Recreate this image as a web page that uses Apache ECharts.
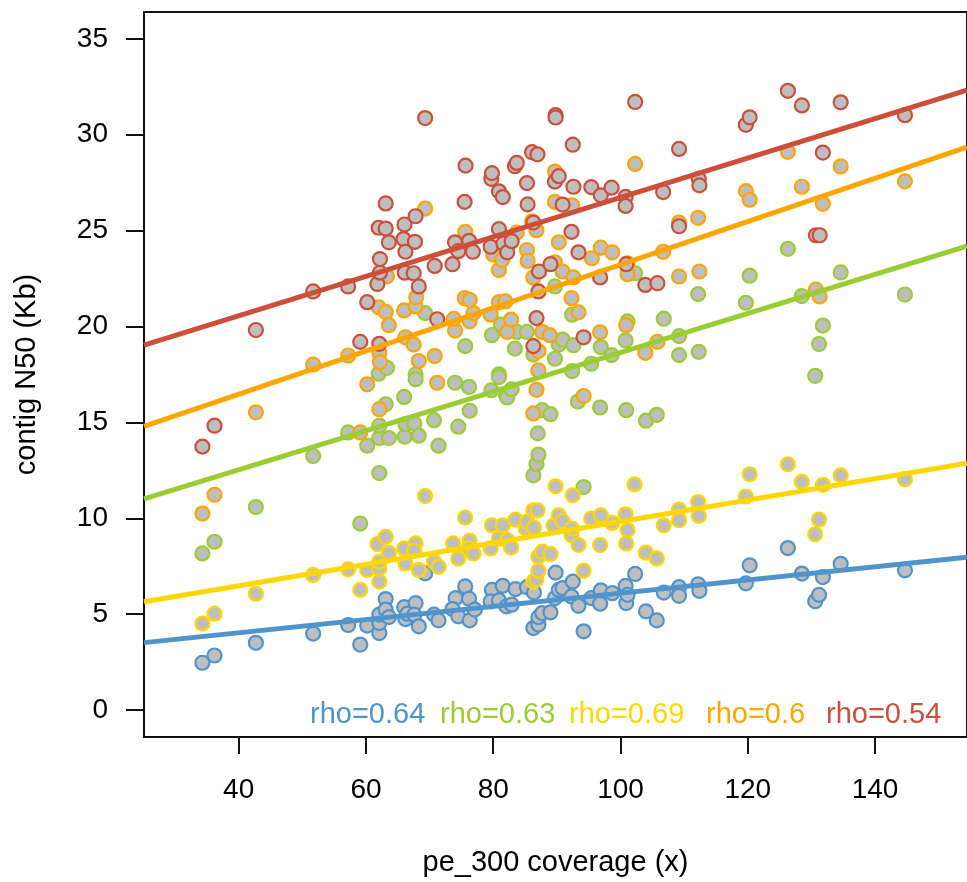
<!DOCTYPE html>
<html>
<head>
<meta charset="utf-8">
<title>contig N50 vs pe_300 coverage</title>
<script src="https://cdn.jsdelivr.net/npm/echarts@6/dist/echarts.min.js"></script>
<style>
  html, body { margin: 0; padding: 0; background: #fff; }
  #chart { width: 967px; height: 882px; }
</style>
</head>
<body>
<div id="chart"></div>
<script>
// Axis tick positions
const xTicks = [40, 60, 80, 100, 120, 140];
const yTicks = [0, 5, 10, 15, 20, 25, 30, 35];

// Series names, colours and Spearman labels
const seriesNames = ['blue', 'green', 'yellow', 'orange', 'red'];
const seriesColors = ['#4F94CD', '#9ACD32', '#FFD700', '#FFA500', '#CD4F39'];
const rhoLabels = ['rho=0.64', 'rho=0.63', 'rho=0.69', 'rho=0.6', 'rho=0.54'];

// Measurements: [coverage, contig N50 (Kb)]
const bluePoints = [[34.3,2.47],[36.2,2.85],[42.7,3.51],[51.7,3.99],[57.2,4.44],[59.1,3.42],[60.2,4.41],[62.1,4.02],[62.1,4.54],[62.1,4.98],[63.1,5.79],[63.1,5.24],[63.6,4.85],[66.0,5.37],[66.2,4.75],[66.5,5.03],[67.8,5.58],[67.6,4.98],[68.3,4.37],[69.3,7.13],[70.7,4.98],[71.4,4.68],[74.1,5.84],[73.6,5.27],[74.5,4.89],[75.6,6.45],[76.2,5.81],[76.3,4.68],[77.1,5.24],[79.8,6.27],[79.6,5.67],[80.9,5.72],[81.5,6.48],[82.1,5.41],[82.9,5.50],[83.5,6.31],[85.3,6.41],[86.4,6.13],[86.3,4.28],[87.1,4.46],[87.1,4.85],[87.7,5.06],[89.0,5.10],[89.7,5.84],[89.8,7.17],[90.3,6.27],[90.9,6.36],[92.3,5.93],[92.5,6.70],[93.4,5.44],[94.2,4.11],[95.4,5.84],[96.8,5.55],[96.9,6.24],[98.7,6.10],[100.8,6.48],[100.9,5.58],[101.1,6.01],[102.3,7.10],[104.0,5.15],[105.7,4.68],[106.8,6.13],[109.2,6.41],[109.2,5.96],[112.2,6.56],[112.4,6.22],[119.7,6.61],[120.3,7.55],[126.3,8.45],[128.5,7.12],[130.6,5.68],[131.2,6.01],[131.8,6.94],[134.6,7.63],[144.7,7.29]];

const greenPoints = [[34.3,8.17],[36.2,8.78],[42.7,10.59],[51.7,13.25],[57.2,14.48],[59.1,9.73],[60.2,13.79],[62.1,12.36],[62.1,14.19],[62.1,14.83],[62.0,17.54],[63.1,15.95],[63.3,17.85],[63.6,14.19],[66.0,16.33],[66.1,14.26],[66.2,14.91],[67.6,14.95],[67.8,17.5],[67.8,17.25],[68.3,14.31],[69.3,20.7],[70.7,15.12],[71.4,13.79],[74.0,17.07],[74.5,14.78],[75.6,18.98],[76.2,16.85],[76.3,15.61],[79.7,16.68],[79.8,19.55],[80.9,17.51],[80.9,17.37],[81.2,20.1],[82.0,16.44],[82.2,16.3],[82.9,16.73],[83.4,18.85],[83.7,19.72],[85.3,19.72],[86.3,18.54],[86.3,12.24],[86.8,12.84],[87.0,14.43],[87.1,13.33],[87.7,15.64],[89.0,15.43],[89.7,18.32],[89.7,22.09],[90.3,19.06],[90.9,19.32],[92.4,17.68],[92.4,20.62],[92.6,19.03],[93.3,16.09],[94.2,11.63],[95.4,18.06],[96.8,15.78],[96.9,18.93],[98.6,18.51],[100.8,19.27],[100.9,15.64],[101.1,20.27],[102.3,22.78],[104.0,15.09],[105.7,15.4],[106.8,20.41],[109.2,19.5],[109.2,18.51],[112.2,21.69],[112.3,18.68],[119.7,21.24],[120.3,22.65],[126.3,24.05],[128.5,21.59],[130.6,17.43],[131.2,19.09],[131.8,20.05],[134.6,22.82],[144.7,21.67]];

const yellowPoints = [[34.3,4.51],[36.2,5.03],[42.7,6.07],[51.7,7.05],[57.2,7.34],[59.1,6.27],[60.2,7.31],[62.1,6.70],[62.1,7.39],[62.1,7.74],[61.8,8.66],[63.1,9.04],[63.6,8.21],[66.0,8.43],[66.2,7.65],[67.8,8.69],[67.6,8.31],[68.3,7.31],[69.3,11.16],[70.7,7.74],[71.4,7.48],[73.7,8.69],[74.5,7.91],[75.6,10.04],[76.3,8.83],[76.1,8.43],[76.9,8.17],[79.6,8.43],[79.8,9.64],[80.9,8.95],[81.5,9.64],[82.2,8.87],[82.8,8.48],[83.5,9.93],[85.1,9.47],[85.3,9.82],[86.3,10.42],[86.4,9.52],[86.95,10.42],[86.3,6.70],[86.8,6.82],[87.1,7.27],[87.1,8.0],[87.7,8.26],[89.0,8.14],[89.5,9.64],[89.8,11.67],[90.3,10.16],[90.9,9.85],[92.3,9.13],[92.4,9.47],[92.5,11.2],[93.4,8.61],[94.2,7.27],[95.4,9.99],[96.8,8.61],[96.9,10.16],[98.7,9.76],[100.8,10.21],[100.9,8.69],[101.1,9.39],[102.2,11.77],[104.0,8.21],[105.7,7.91],[106.8,9.64],[109.2,10.45],[109.2,9.9],[112.2,10.85],[112.3,10.13],[119.7,11.14],[120.3,12.30],[126.3,12.82],[128.5,11.90],[130.6,9.17],[131.2,9.94],[131.8,11.75],[134.6,12.24],[144.7,12.04]];

const orangePoints = [[34.3,10.25],[36.2,11.23],[42.7,15.53],[51.7,18.02],[57.2,18.49],[59.1,14.48],[60.2,16.99],[62.1,15.69],[62.1,18.63],[62.2,18.15],[62.0,21.0],[63.1,20.76],[63.3,22.62],[63.6,20.07],[66.0,20.84],[66.2,19.44],[67.5,19.06],[67.8,21.05],[67.9,21.53],[68.3,18.2],[69.3,26.15],[70.8,18.46],[71.2,17.07],[74.0,19.79],[73.8,20.4],[75.5,21.48],[75.6,24.94],[76.3,21.39],[76.3,20.27],[76.9,20.7],[79.6,20.62],[80.0,23.76],[80.9,21.27],[80.9,22.95],[81.4,23.47],[81.9,21.31],[82.2,19.72],[82.8,20.36],[83.7,24.9],[85.3,23.99],[85.4,23.42],[86.1,25.49],[86.3,22.56],[86.3,15.47],[86.8,25.02],[86.8,16.7],[87.1,18.72],[87.1,17.71],[87.7,19.72],[88.9,19.55],[89.7,28.08],[89.7,26.5],[89.7,23.35],[90.3,24.39],[90.9,22.87],[92.3,21.48],[92.4,26.32],[92.6,22.56],[93.4,20.74],[94.2,16.38],[95.5,23.56],[96.8,19.7],[96.9,24.11],[98.7,23.87],[100.9,20.07],[101.1,22.73],[101.1,23.3],[102.3,28.48],[103.9,18.63],[105.8,19.2],[106.7,23.9],[109.2,25.42],[109.2,22.61],[112.2,25.67],[112.4,22.87],[119.7,27.06],[120.3,26.61],[126.3,29.11],[128.5,27.29],[130.7,21.92],[131.3,21.57],[131.8,26.40],[134.6,28.35],[144.7,27.57]];

const redPoints = [[34.3,13.74],[36.2,14.83],[42.7,19.82],[51.7,21.83],[57.2,22.09],[59.1,19.20],[60.2,21.27],[61.8,22.22],[62.1,19.10],[62.0,25.15],[62.2,22.81],[62.2,23.52],[63.1,25.11],[63.1,26.42],[63.6,24.39],[65.9,24.56],[66.05,25.32],[66.1,22.81],[66.2,23.9],[67.5,22.78],[67.7,24.42],[67.8,25.75],[68.3,22.09],[69.3,30.87],[70.8,23.16],[71.2,20.38],[73.6,23.25],[74.0,24.39],[74.5,23.93],[75.5,26.5],[75.65,28.39],[76.2,24.47],[76.8,23.9],[79.6,24.16],[79.7,27.7],[79.8,28.0],[80.9,27.05],[80.9,25.08],[81.5,26.75],[81.6,24.33],[82.2,23.87],[82.9,24.45],[83.4,28.36],[83.7,28.53],[85.3,27.48],[85.4,26.37],[86.1,29.09],[86.3,25.42],[86.3,18.98],[86.8,20.44],[86.95,28.98],[87.1,21.83],[87.2,22.87],[89.0,23.25],[89.7,27.56],[89.8,31.02],[89.8,30.9],[90.3,27.84],[90.9,26.36],[92.3,24.94],[92.5,29.48],[92.6,27.29],[93.4,23.87],[94.2,19.44],[95.4,27.27],[96.8,22.56],[96.9,26.84],[98.6,27.24],[100.8,26.76],[100.8,26.29],[100.9,23.25],[102.3,31.71],[103.9,22.17],[105.8,22.26],[106.7,27.01],[109.2,29.26],[109.2,25.23],[112.3,27.7],[112.4,27.36],[119.7,30.52],[120.3,30.91],[126.3,32.29],[128.5,31.53],[130.7,24.76],[131.3,24.76],[131.8,29.07],[134.6,31.69],[144.7,31.02]];

// Fitted trend lines: values at the two ends of the x range
const fitX = [25.12, 154.45];
const blueFit = [3.52, 7.97];
const greenFit = [11.02, 24.19];
const yellowFit = [5.65, 12.88];
const orangeFit = [14.8, 29.36];
const redFit = [19.03, 32.32];

const pointSets = [bluePoints, greenPoints, yellowPoints, orangePoints, redPoints];
const fitSets = [blueFit, greenFit, yellowFit, orangeFit, redFit];

const FONT = '"Liberation Sans", Arial, Helvetica, sans-serif';
const chart = echarts.init(document.getElementById('chart'), null, { renderer: 'canvas' });

const scatterSeries = pointSets.map((pts, i) => ({
  name: seriesNames[i],
  type: 'scatter',
  data: pts,
  symbol: 'circle',
  symbolSize: 14,
  itemStyle: { color: '#BEBEBE', borderColor: seriesColors[i], borderWidth: 2.2, opacity: 1 },
  emphasis: { disabled: true },
  z: 2
}));

const lineSeries = fitSets.map((fit, i) => ({
  name: seriesNames[i] + ' fit',
  type: 'line',
  data: fitX.map((x, k) => [x, fit[k]]),
  symbol: 'none',
  lineStyle: { color: seriesColors[i], width: 5 },
  emphasis: { disabled: true },
  z: 3
}));

const option = {
  animation: false,
  backgroundColor: '#ffffff',
  grid: {
    left: 144, top: 12, right: -9, bottom: 140,
    show: true, borderColor: '#111', borderWidth: 2, backgroundColor: 'transparent'
  },
  xAxis: {
    type: 'value',
    min: 25.12, max: 154.45,
    name: 'pe_300 coverage (x)',
    nameLocation: 'middle',
    nameGap: 111,
    nameTextStyle: { fontFamily: FONT, fontSize: 29, color: '#000' },
    axisLine: { show: false, onZero: false },
    axisTick: { show: true, customValues: xTicks, length: 17, lineStyle: { color: '#111', width: 2 } },
    axisLabel: { customValues: xTicks, margin: 39, fontFamily: FONT, fontSize: 28, color: '#000' },
    splitLine: { show: false }
  },
  yAxis: {
    type: 'value',
    min: -1.4, max: 36.4,
    name: 'contig N50 (Kb)',
    nameLocation: 'middle',
    nameGap: 103,
    nameTextStyle: { fontFamily: FONT, fontSize: 29, color: '#000' },
    axisLine: { show: false, onZero: false },
    axisTick: { show: true, customValues: yTicks, length: 18, lineStyle: { color: '#111', width: 2 } },
    axisLabel: { customValues: yTicks, margin: 36, fontFamily: FONT, fontSize: 28, color: '#000' },
    splitLine: { show: false }
  },
  graphic: rhoLabels.map((txt, i) => ({
    type: 'text',
    left: [310, 440, 569, 706, 826][i],
    top: 700,
    style: { text: txt, font: '29px ' + FONT, fill: seriesColors[i] },
    z: 10
  })),
  series: scatterSeries.concat(lineSeries)
};

chart.setOption(option);
</script>
</body>
</html>
